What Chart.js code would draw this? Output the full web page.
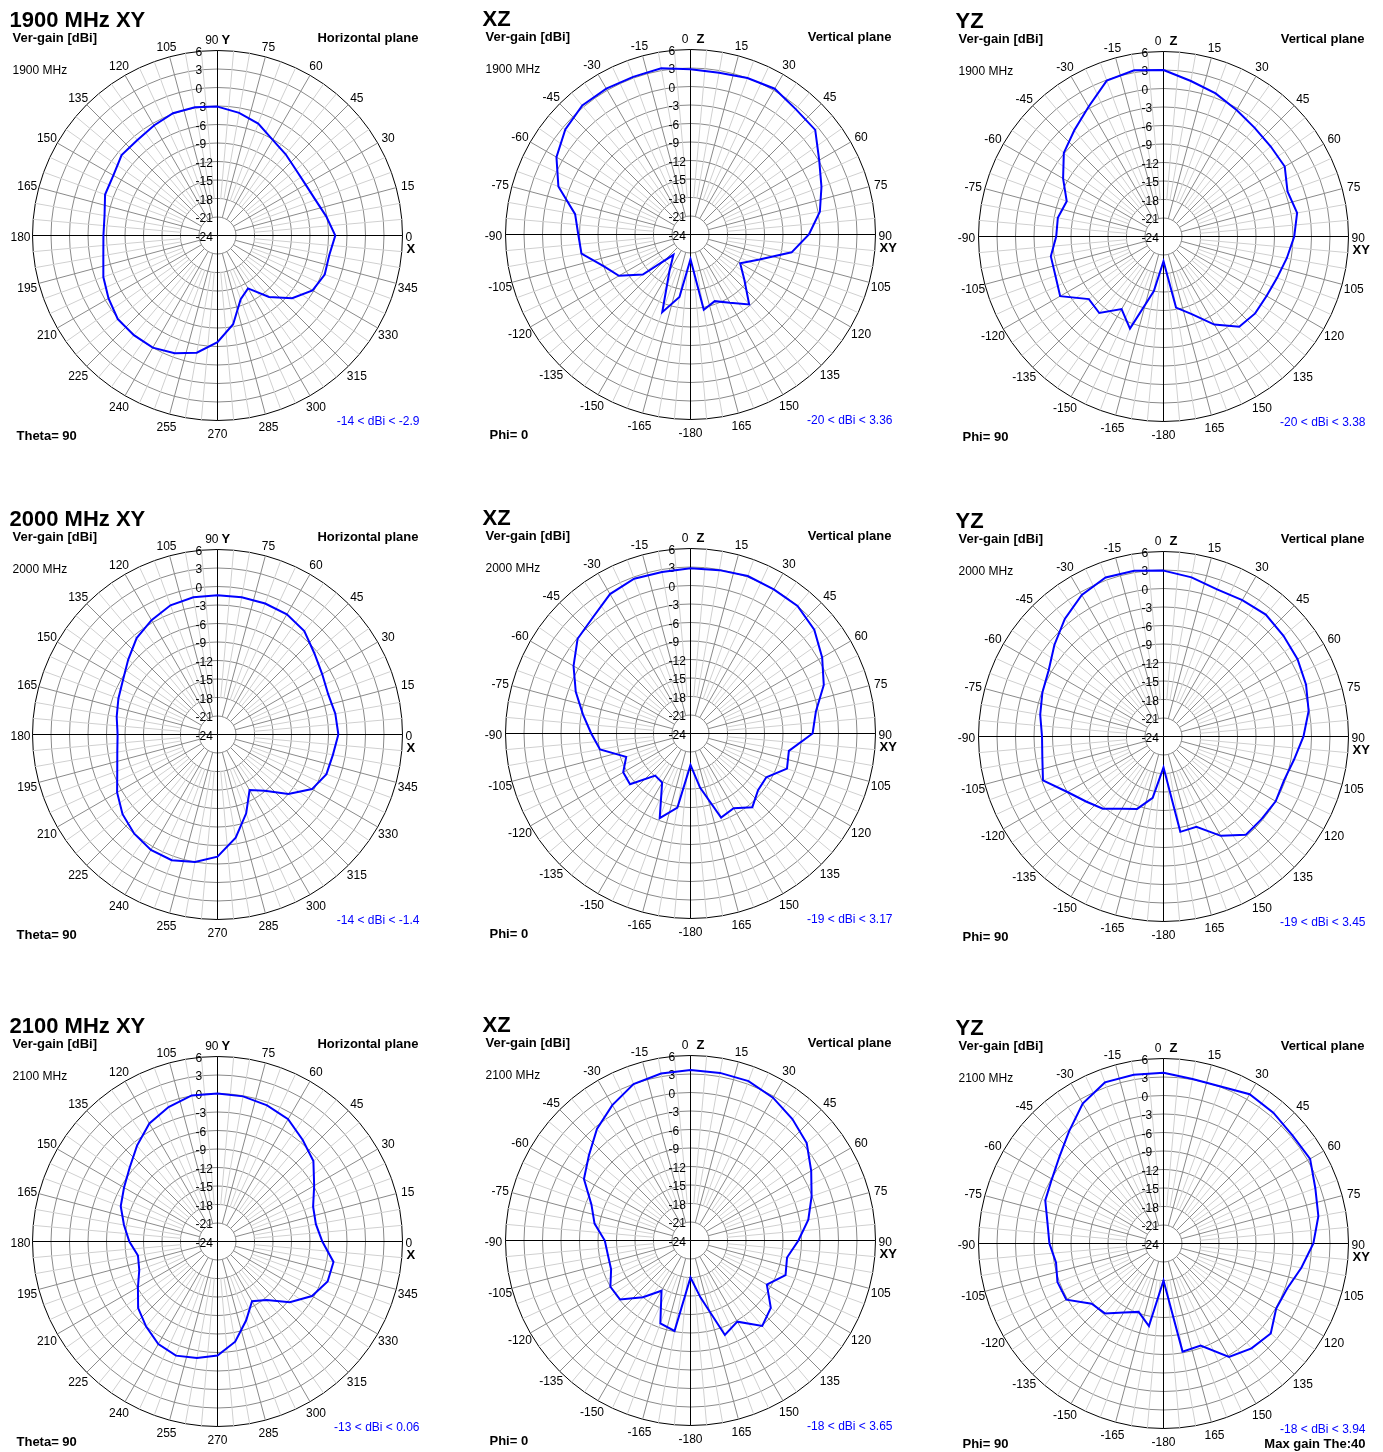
<!DOCTYPE html>
<html>
<head>
<meta charset="utf-8">
<title>Antenna patterns 1900 / 2000 / 2100 MHz</title>
<script src="https://cdn.jsdelivr.net/npm/chart.js@4.4.1/dist/chart.umd.min.js"></script>
<style>
  html, body { margin: 0; padding: 0; background: #fff; }
  body { width: 1383px; height: 1452px; position: relative; overflow: hidden; }
  canvas { position: absolute; }
</style>
</head>
<body>
<script>
// Vertical gain [dBi], one sample every 10 degrees (0, 10, ... 350).
// XY cuts: angle counter-clockwise from +X.
// XZ / YZ cuts: angle clockwise from +Z (190 means -170 and so on).
const sampleStep = 10;

const xy1900 = [-4.9, -6.1, -7.1, -7.5, -7.4, -6.8, -6.1, -4.7, -3.8, -3.1, -2.9, -2.9, -3.4, -3.8, -3.7, -4.5, -4.6, -5.4,
                -5.5, -5.2, -4.3, -3.6, -2.9, -2.9, -3.0, -3.7, -4.7, -6.7, -9.4, -13.0, -14.1, -11.0, -8.2, -6.2, -5.5, -5.6];
const xz1900 = [2.8, 2.65, 3.0, 3.3, 2.55, 2.4, 0.1, -1.4, -2.7, -4.8, -7.35, -12.1, -14.7, -12.6, -9.2, -11.2, -12.5, -11.6,
                -20.0, -13.7, -10.6, -17.2, -19.7, -13.9, -10.6, -9.0, -6.05, -5.8, -5.0, -1.2, 1.1, 2.5, 3.3, 3.3, 3.2, 3.36];
const yz1900 = [3.0, 1.6, 0.7, -0.3, -1.0, -1.3, -1.3, -2.6, -2.0, -2.8, -3.7, -4.4, -4.7, -4.6, -4.9, -7.5, -10.6, -12.3,
                -20.0, -15.0, -8.1, -10.4, -7.8, -8.2, -4.65, -5.35, -5.45, -6.6, -6.6, -7.3, -5.2, -2.9, -1.5, 0.3, 2.9, 3.38];

const xy2000 = [-4.4, -4.6, -4.9, -4.4, -3.5, -2.1, -1.5, -1.4, -1.4, -1.4, -1.4, -1.7, -2.6, -3.6, -5.1, -6.3, -6.9, -7.4,
                -7.8, -7.5, -6.7, -5.2, -3.9, -3.0, -2.4, -2.3, -3.0, -4.2, -7.0, -10.4, -13.6, -12.1, -9.0, -6.3, -5.2, -5.0];
const xz2000 = [2.8, 2.9, 3.17, 3.0, 3.0, 2.2, 0.65, -1.0, -3.35, -4.2, -7.8, -7.35, -9.8, -9.7, -8.4, -10.0, -9.5, -15.1,
                -18.9, -11.8, -9.4, -14.8, -15.1, -11.2, -11.4, -12.9, -9.1, -7.9, -6.3, -4.2, -2.1, -0.1, 0.6, 2.1, 2.7, 2.6];
const yz2000 = [2.9, 2.2, 1.4, 1.55, 1.8, 1.4, 1.1, 0.6, -0.1, -1.3, -2.5, -3.2, -3.0, -3.2, -3.2, -5.4, -8.4, -8.3,
                -19.0, -13.9, -11.5, -10.45, -8.7, -7.6, -6.0, -3.2, -4.05, -4.3, -3.7, -3.1, -2.5, -0.9, 0.9, 2.5, 3.45, 3.3];

const xy2100 = [-7.0, -7.8, -7.5, -5.9, -3.7, -2.5, -1.1, -0.5, -0.1, 0.0, 0.06, -0.8, -1.9, -3.7, -5.4, -6.5, -7.3, -8.6,
                -9.7, -10.9, -10.5, -9.1, -7.2, -6.0, -4.8, -4.3, -4.8, -5.5, -7.5, -10.4, -12.8, -11.6, -8.7, -6.3, -5.0, -4.9];
const xz2100 = [3.65, 3.6, 3.5, 2.75, 1.7, 0.6, -1.4, -3.1, -4.6, -6.5, -8.1, -7.6, -9.7, -7.0, -5.9, -8.8, -7.7, -14.6,
                -18.0, -9.1, -9.7, -14.6, -12.0, -9.1, -9.0, -10.3, -10.4, -10.1, -8.2, -6.9, -4.05, -2.5, -0.4, 1.35, 3.0, 3.5];
const yz2100 = [3.7, 3.1, 3.1, 3.94, 3.7, 3.3, 3.45, 2.2, 1.5, 0.3, -1.3, -2.65, -2.9, -1.3, -1.8, -2.75, -6.4, -6.2,
                -18.0, -10.4, -12.2, -11.1, -9.2, -8.8, -5.8, -5.7, -6.3, -5.5, -4.9, -3.6, -3.1, -2.0, -0.2, 2.2, 3.8, 3.8];

const ringTicks = [6, 3, 0, -3, -6, -9, -12, -15, -18, -21, -24];
const frequencies = ['1900', '2000', '2100'];
const ranges = [
  '-14 < dBi < -2.9', '-20 < dBi < 3.36', '-20 < dBi < 3.38',
  '-14 < dBi < -1.4', '-19 < dBi < 3.17', '-19 < dBi < 3.45',
  '-13 < dBi < 0.06', '-18 < dBi < 3.65', '-18 < dBi < 3.94'
];

const FONT = '"Liberation Sans", Arial, sans-serif';
const GRID = '#8a8a8a';
const GRID_FINE = '#d0d0d0';
const CURVE = '#0000ff';

// 72 spokes, 5 degrees apart, index 0 at the top, going clockwise
function angleLabel(cut, i) {
  const a = 5 * i;
  if (cut === 'XY') return String((450 - a) % 360);
  if (a === 180) return '-180';
  return String(a < 180 ? a : a - 360);
}

function toRadar(cut, values) {
  return Array.from({ length: 72 }, (_, i) => {
    const deg = cut === 'XY' ? (450 - 5 * i) % 360 : (5 * i) % 360;
    return deg % sampleStep === 0 ? values[deg / sampleStep] : null;
  });
}

function polarFrame(p) {
  return {
    id: 'polarFrame',
    beforeDraw(chart) {
      chart.ctx.save();
      chart.ctx.translate(0.5, 0.5);
    },
    beforeDatasetsDraw(chart) {
      const s = chart.scales.r;
      const ctx = chart.ctx;
      const cx = s.xCenter, cy = s.yCenter, R = s.drawingArea;
      const rIn = s.getDistanceFromCenterForValue(-21);
      const rHub = s.getDistanceFromCenterForValue(-18);
      ctx.save();

      // open hub: fine spokes stop at -18, main spokes at -21
      ctx.fillStyle = '#fff';
      ctx.beginPath();
      ctx.arc(cx, cy, rHub - 0.6, 0, Math.PI * 2);
      ctx.fill();
      ctx.lineWidth = 1;
      ctx.strokeStyle = GRID;
      ctx.beginPath();
      for (let i = 0; i < 72; i += 3) {
        if (i % 18 === 0) continue;
        const a = s.getPointPosition(i, rIn), b = s.getPointPosition(i, rHub);
        ctx.moveTo(a.x, a.y);
        ctx.lineTo(b.x, b.y);
      }
      ctx.stroke();
      ctx.beginPath();
      ctx.arc(cx, cy, rIn, 0, Math.PI * 2);
      ctx.stroke();
      ctx.strokeStyle = '#000';
      ctx.beginPath();
      [0, 18, 36, 54].forEach(i => {
        const b = s.getPointPosition(i, rHub);
        ctx.moveTo(cx, cy);
        ctx.lineTo(b.x, b.y);
      });
      ctx.stroke();

      // ring values along the vertical axis
      ctx.fillStyle = '#000';
      ctx.font = '12px ' + FONT;
      ctx.textAlign = 'left';
      ctx.textBaseline = 'middle';
      ringTicks.forEach(v => {
        ctx.fillText(String(v), cx - 22, cy - s.getDistanceFromCenterForValue(v) + 2);
      });

      // angle labels every 15 degrees
      const letters = p.cut === 'XY' ? ['Y', 'X'] : ['Z', 'XY'];
      for (let i = 0; i < 72; i += 3) {
        const txt = angleLabel(p.cut, i);
        ctx.font = '12px ' + FONT;
        if (i === 0) {
          ctx.textAlign = 'right';
          ctx.fillText(txt, cx + (p.cut === 'XY' ? 1 : -2), cy - R - 10);
          ctx.font = 'bold 13px ' + FONT;
          ctx.textAlign = 'left';
          ctx.fillText(letters[0], cx + (p.cut === 'XY' ? 4 : 6), cy - R - 10);
        } else if (i === 18) {
          ctx.textAlign = 'left';
          ctx.fillText(txt, cx + R + 3, cy + 2);
          ctx.font = 'bold 13px ' + FONT;
          ctx.fillText(letters[1], cx + R + 4, cy + 13.5);
        } else {
          const pt = s.getPointPosition(i, R + 12);
          ctx.textAlign = 'center';
          ctx.fillText(txt, pt.x, pt.y + 2);
        }
      }
      ctx.restore();
    },
    afterDraw(chart) {
      const s = chart.scales.r;
      const ctx = chart.ctx;
      const cx = s.xCenter, cy = s.yCenter;
      ctx.save();
      ctx.fillStyle = '#000';
      ctx.textBaseline = 'alphabetic';
      ctx.textAlign = 'left';
      ctx.font = 'bold 22px ' + FONT;
      ctx.fillText(p.title, cx - 208, cy - 209);
      ctx.font = 'bold 13px ' + FONT;
      ctx.fillText('Ver-gain [dBi]', cx - 205, cy - 194);
      ctx.fillText(p.cut === 'XY' ? 'Theta= 90' : (p.cut === 'XZ' ? 'Phi= 0' : 'Phi= 90'), cx - 201, cy + 204);
      ctx.textAlign = 'right';
      ctx.fillText(p.cut === 'XY' ? 'Horizontal plane' : 'Vertical plane', cx + 201, cy - 194);
      if (p.footer) ctx.fillText(p.footer, cx + 202, cy + 204);
      ctx.textAlign = 'left';
      ctx.font = '12px ' + FONT;
      ctx.fillText(p.freq + ' MHz', cx - 205, cy - 162);
      ctx.textAlign = 'right';
      ctx.fillStyle = CURVE;
      ctx.fillText(p.range, cx + 202, cy + 189);
      ctx.restore();
      ctx.restore();
    }
  };
}

// page layout: canvas corners so that the plot centres land where the original ones are
const cells = [
  { cut: 'XY', gain: xy1900, left: -3,  top: 0 },
  { cut: 'XZ', gain: xz1900, left: 470, top: -1 },
  { cut: 'YZ', gain: yz1900, left: 943, top: 1 },
  { cut: 'XY', gain: xy2000, left: -3,  top: 499 },
  { cut: 'XZ', gain: xz2000, left: 470, top: 498 },
  { cut: 'YZ', gain: yz2000, left: 943, top: 501 },
  { cut: 'XY', gain: xy2100, left: -3,  top: 1006 },
  { cut: 'XZ', gain: xz2100, left: 470, top: 1005 },
  { cut: 'YZ', gain: yz2100, left: 943, top: 1008 }
];

cells.forEach((c, k) => {
  const freq = frequencies[Math.floor(k / 3)];
  const panel = {
    cut: c.cut,
    freq,
    title: c.cut === 'XY' ? freq + ' MHz XY' : c.cut,
    range: ranges[k],
    footer: k === cells.length - 1 ? 'Max gain The:40' : ''
  };

  const canvas = document.createElement('canvas');
  canvas.width = 440;
  canvas.height = 450;
  canvas.style.left = c.left + 'px';
  canvas.style.top = c.top + 'px';
  document.body.appendChild(canvas);

  new Chart(canvas, {
    type: 'radar',
    data: {
      labels: Array.from({ length: 72 }, (_, i) => angleLabel(c.cut, i)),
      datasets: [{
        data: toRadar(c.cut, c.gain),
        borderColor: CURVE,
        borderWidth: 2,
        backgroundColor: 'transparent',
        fill: false,
        spanGaps: true,
        tension: 0,
        pointRadius: 0,
        pointHitRadius: 0,
        borderJoinStyle: 'miter'
      }]
    },
    options: {
      responsive: false,
      animation: false,
      devicePixelRatio: 1,
      layout: { padding: { left: 35, right: 35, top: 50, bottom: 30 } },
      plugins: { legend: { display: false }, tooltip: { enabled: false } },
      scales: {
        r: {
          min: -24,
          max: 6,
          startAngle: 0,
          ticks: { stepSize: 3, display: false },
          pointLabels: { display: false },
          grid: {
            lineWidth: 1,
            color: (ctx) => ctx.tick && ctx.tick.value === 6 ? '#000' : GRID
          },
          angleLines: {
            lineWidth: 1,
            color: (ctx) => ctx.index % 18 === 0 ? '#000' : (ctx.index % 3 === 0 ? GRID : GRID_FINE)
          }
        }
      }
    },
    plugins: [polarFrame(panel)]
  });
});
</script>
</body>
</html>
